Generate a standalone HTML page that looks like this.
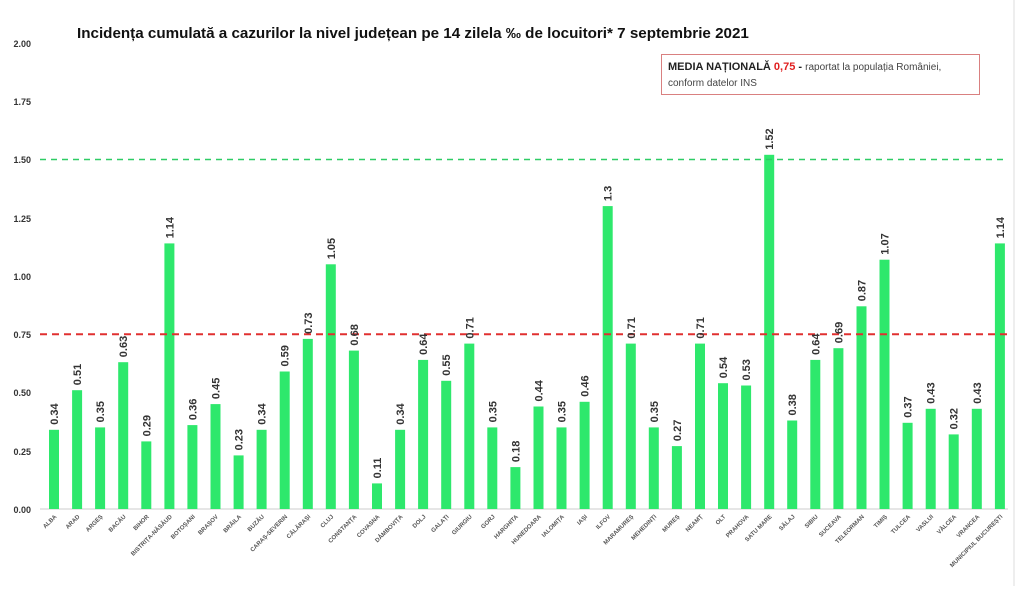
<!DOCTYPE html>
<html><head><meta charset="utf-8"><style>
body{margin:0;background:#fff;width:1024px;height:586px;overflow:hidden;font-family:"Liberation Sans",sans-serif}
</style></head><body>
<svg width="1024" height="586" xmlns="http://www.w3.org/2000/svg" font-family="Liberation Sans, sans-serif">
<line x1="1014" y1="0" x2="1014" y2="586" stroke="#ddd"/>
<text x="77" y="38" font-size="15.2" font-weight="bold" fill="#111">Incidența cumulată a cazurilor la nivel județean pe 14 zilela ‰ de locuitori* 7 septembrie 2021</text>
<g font-size="9" font-weight="bold" fill="#333" text-anchor="end">
<text x="31" y="47">2.00</text><text x="31" y="105">1.75</text><text x="31" y="163">1.50</text><text x="31" y="222">1.25</text><text x="31" y="280">1.00</text><text x="31" y="338">0.75</text><text x="31" y="396">0.50</text><text x="31" y="455">0.25</text><text x="31" y="513">0.00</text>
</g>
<line x1="40" y1="509" x2="1008" y2="509" stroke="#ccc"/>
<g fill="#2ee86c">
<rect x="49" y="429.8" width="10" height="79.2"/><rect x="72.1" y="390.2" width="10" height="118.8"/><rect x="95.1" y="427.4" width="10" height="81.6"/><rect x="118.2" y="362.2" width="10" height="146.8"/><rect x="141.3" y="441.4" width="10" height="67.6"/><rect x="164.4" y="243.4" width="10" height="265.6"/><rect x="187.4" y="425.1" width="10" height="83.9"/><rect x="210.5" y="404.1" width="10" height="104.9"/><rect x="233.6" y="455.4" width="10" height="53.6"/><rect x="256.6" y="429.8" width="10" height="79.2"/><rect x="279.7" y="371.5" width="10" height="137.5"/><rect x="302.8" y="338.9" width="10" height="170.1"/><rect x="325.8" y="264.3" width="10" height="244.7"/><rect x="348.9" y="350.6" width="10" height="158.4"/><rect x="372" y="483.4" width="10" height="25.6"/><rect x="395.1" y="429.8" width="10" height="79.2"/><rect x="418.1" y="359.9" width="10" height="149.1"/><rect x="441.2" y="380.8" width="10" height="128.2"/><rect x="464.3" y="343.6" width="10" height="165.4"/><rect x="487.3" y="427.4" width="10" height="81.6"/><rect x="510.4" y="467.1" width="10" height="41.9"/><rect x="533.5" y="406.5" width="10" height="102.5"/><rect x="556.5" y="427.4" width="10" height="81.6"/><rect x="579.6" y="401.8" width="10" height="107.2"/><rect x="602.7" y="206.1" width="10" height="302.9"/><rect x="625.8" y="343.6" width="10" height="165.4"/><rect x="648.8" y="427.4" width="10" height="81.6"/><rect x="671.9" y="446.1" width="10" height="62.9"/><rect x="695" y="343.6" width="10" height="165.4"/><rect x="718" y="383.2" width="10" height="125.8"/><rect x="741.1" y="385.5" width="10" height="123.5"/><rect x="764.2" y="154.8" width="10" height="354.2"/><rect x="787.2" y="420.5" width="10" height="88.5"/><rect x="810.3" y="359.9" width="10" height="149.1"/><rect x="833.4" y="348.2" width="10" height="160.8"/><rect x="856.5" y="306.3" width="10" height="202.7"/><rect x="879.5" y="259.7" width="10" height="249.3"/><rect x="902.6" y="422.8" width="10" height="86.2"/><rect x="925.7" y="408.8" width="10" height="100.2"/><rect x="948.7" y="434.4" width="10" height="74.6"/><rect x="971.8" y="408.8" width="10" height="100.2"/><rect x="994.9" y="243.4" width="10" height="265.6"/>
</g>
<line x1="40" y1="159.5" x2="1008" y2="159.5" stroke="#2ecc65" stroke-width="1.5" stroke-dasharray="6,5"/>
<line x1="40" y1="334.3" x2="1008" y2="334.3" stroke="#e03030" stroke-width="2" stroke-dasharray="7,5"/>
<g font-size="11" font-weight="bold" fill="#333">
<text transform="translate(58,424.8) rotate(-90)">0.34</text><text transform="translate(81.1,385.2) rotate(-90)">0.51</text><text transform="translate(104.1,422.4) rotate(-90)">0.35</text><text transform="translate(127.2,357.2) rotate(-90)">0.63</text><text transform="translate(150.3,436.4) rotate(-90)">0.29</text><text transform="translate(173.4,238.4) rotate(-90)">1.14</text><text transform="translate(196.4,420.1) rotate(-90)">0.36</text><text transform="translate(219.5,399.1) rotate(-90)">0.45</text><text transform="translate(242.6,450.4) rotate(-90)">0.23</text><text transform="translate(265.6,424.8) rotate(-90)">0.34</text><text transform="translate(288.7,366.5) rotate(-90)">0.59</text><text transform="translate(311.8,333.9) rotate(-90)">0.73</text><text transform="translate(334.8,259.3) rotate(-90)">1.05</text><text transform="translate(357.9,345.6) rotate(-90)">0.68</text><text transform="translate(381,478.4) rotate(-90)">0.11</text><text transform="translate(404.1,424.8) rotate(-90)">0.34</text><text transform="translate(427.1,354.9) rotate(-90)">0.64</text><text transform="translate(450.2,375.8) rotate(-90)">0.55</text><text transform="translate(473.3,338.6) rotate(-90)">0.71</text><text transform="translate(496.3,422.4) rotate(-90)">0.35</text><text transform="translate(519.4,462.1) rotate(-90)">0.18</text><text transform="translate(542.5,401.5) rotate(-90)">0.44</text><text transform="translate(565.5,422.4) rotate(-90)">0.35</text><text transform="translate(588.6,396.8) rotate(-90)">0.46</text><text transform="translate(611.7,201.1) rotate(-90)">1.3</text><text transform="translate(634.8,338.6) rotate(-90)">0.71</text><text transform="translate(657.8,422.4) rotate(-90)">0.35</text><text transform="translate(680.9,441.1) rotate(-90)">0.27</text><text transform="translate(704,338.6) rotate(-90)">0.71</text><text transform="translate(727,378.2) rotate(-90)">0.54</text><text transform="translate(750.1,380.5) rotate(-90)">0.53</text><text transform="translate(773.2,149.8) rotate(-90)">1.52</text><text transform="translate(796.2,415.5) rotate(-90)">0.38</text><text transform="translate(819.3,354.9) rotate(-90)">0.64</text><text transform="translate(842.4,343.2) rotate(-90)">0.69</text><text transform="translate(865.5,301.3) rotate(-90)">0.87</text><text transform="translate(888.5,254.7) rotate(-90)">1.07</text><text transform="translate(911.6,417.8) rotate(-90)">0.37</text><text transform="translate(934.7,403.8) rotate(-90)">0.43</text><text transform="translate(957.7,429.4) rotate(-90)">0.32</text><text transform="translate(980.8,403.8) rotate(-90)">0.43</text><text transform="translate(1003.9,238.4) rotate(-90)">1.14</text>
</g>
<g font-size="6" font-weight="bold" fill="#555" text-anchor="end">
<text transform="translate(57,517) rotate(-45)">ALBA</text><text transform="translate(80.1,517) rotate(-45)">ARAD</text><text transform="translate(103.1,517) rotate(-45)">ARGEȘ</text><text transform="translate(126.2,517) rotate(-45)">BACĂU</text><text transform="translate(149.3,517) rotate(-45)">BIHOR</text><text transform="translate(172.4,517) rotate(-45)">BISTRIȚA-NĂSĂUD</text><text transform="translate(195.4,517) rotate(-45)">BOTOȘANI</text><text transform="translate(218.5,517) rotate(-45)">BRAȘOV</text><text transform="translate(241.6,517) rotate(-45)">BRĂILA</text><text transform="translate(264.6,517) rotate(-45)">BUZĂU</text><text transform="translate(287.7,517) rotate(-45)">CARAȘ-SEVERIN</text><text transform="translate(310.8,517) rotate(-45)">CĂLĂRAȘI</text><text transform="translate(333.8,517) rotate(-45)">CLUJ</text><text transform="translate(356.9,517) rotate(-45)">CONSTANȚA</text><text transform="translate(380,517) rotate(-45)">COVASNA</text><text transform="translate(403.1,517) rotate(-45)">DÂMBOVIȚA</text><text transform="translate(426.1,517) rotate(-45)">DOLJ</text><text transform="translate(449.2,517) rotate(-45)">GALAȚI</text><text transform="translate(472.3,517) rotate(-45)">GIURGIU</text><text transform="translate(495.3,517) rotate(-45)">GORJ</text><text transform="translate(518.4,517) rotate(-45)">HARGHITA</text><text transform="translate(541.5,517) rotate(-45)">HUNEDOARA</text><text transform="translate(564.5,517) rotate(-45)">IALOMIȚA</text><text transform="translate(587.6,517) rotate(-45)">IAȘI</text><text transform="translate(610.7,517) rotate(-45)">ILFOV</text><text transform="translate(633.8,517) rotate(-45)">MARAMUREȘ</text><text transform="translate(656.8,517) rotate(-45)">MEHEDINȚI</text><text transform="translate(679.9,517) rotate(-45)">MUREȘ</text><text transform="translate(703,517) rotate(-45)">NEAMȚ</text><text transform="translate(726,517) rotate(-45)">OLT</text><text transform="translate(749.1,517) rotate(-45)">PRAHOVA</text><text transform="translate(772.2,517) rotate(-45)">SATU MARE</text><text transform="translate(795.2,517) rotate(-45)">SĂLAJ</text><text transform="translate(818.3,517) rotate(-45)">SIBIU</text><text transform="translate(841.4,517) rotate(-45)">SUCEAVA</text><text transform="translate(864.5,517) rotate(-45)">TELEORMAN</text><text transform="translate(887.5,517) rotate(-45)">TIMIȘ</text><text transform="translate(910.6,517) rotate(-45)">TULCEA</text><text transform="translate(933.7,517) rotate(-45)">VASLUI</text><text transform="translate(956.7,517) rotate(-45)">VÂLCEA</text><text transform="translate(979.8,517) rotate(-45)">VRANCEA</text><text transform="translate(1002.9,517) rotate(-45)">MUNICIPIUL BUCUREȘTI</text>
</g>
<rect x="661.5" y="54.5" width="318" height="40" fill="#fff" stroke="#d98080" stroke-width="1"/>
<text x="668" y="70" font-size="11"><tspan font-weight="bold" fill="#222">MEDIA NAȚIONALĂ </tspan><tspan font-weight="bold" fill="#e02020">0,75</tspan><tspan font-weight="bold" fill="#222"> - </tspan><tspan fill="#444" font-size="10">raportat la populația României,</tspan></text>
<text x="668" y="86" font-size="10" fill="#444">conform datelor INS</text>
</svg>
</body></html>
